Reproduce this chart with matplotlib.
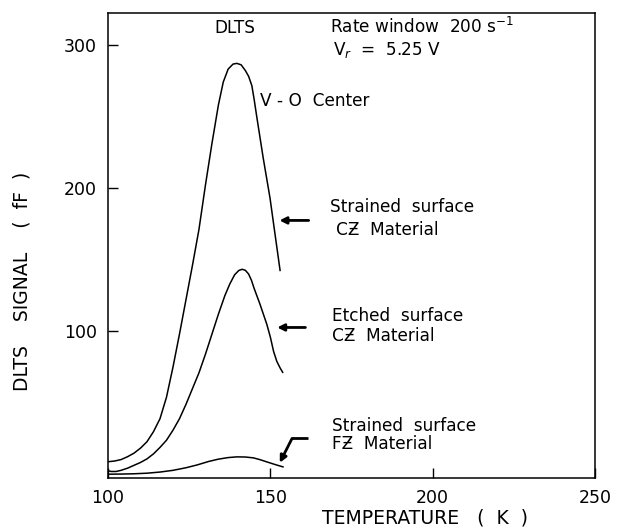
import matplotlib
matplotlib.use("Agg")
import matplotlib.pyplot as plt

# strained surface, CZ material (V-O center)
t_strained_cz = [100, 102, 104, 106, 108, 110, 112, 114, 116, 118, 120, 122, 124, 126,
                 128, 130, 132, 134, 135.5, 137, 138.5, 139.7, 141, 142.3, 143.3, 144.3,
                 145, 145.8, 147.8, 149.9, 151, 153]
s_strained_cz = [9, 9.5, 10.5, 12.5, 15, 18.5, 23, 30, 39, 54, 75, 98, 122, 146,
                 171, 202, 231, 258, 274, 283, 286.5, 287, 286, 282, 278, 271.5,
                 262, 250, 221, 193, 175, 142.5]

# etched surface, CZ material
t_etched_cz = [100, 101, 102.5, 104, 106, 108, 110, 112, 114, 116, 118, 120, 122, 124,
               126, 128, 130, 132, 134, 136, 137.5, 139, 140.3, 141.3, 142.3, 143.3,
               144.2, 145, 146.8, 148.9, 150, 151, 152, 153, 153.8]
s_etched_cz = [2.7, 2.2, 2.2, 3, 4.5, 6.5, 8.5, 11, 14.5, 19, 24, 31, 39, 49,
               60, 71, 84, 98, 112, 125, 133, 139.5, 142.5, 143.3, 142.6, 140,
               135.5, 130, 119, 105, 96, 86, 79, 74.5, 71.4]

# strained surface, FZ material
t_strained_fz = [100, 104, 108, 112, 116, 120, 124, 127.5, 131, 134, 137, 139.7,
                 142.3, 144.8, 146.9, 148.9, 151.4, 153.9]
s_strained_fz = [0.3, 0.4, 0.6, 1, 1.8, 3, 4.8, 6.8, 9.2, 10.8, 11.9, 12.4,
                 12.3, 11.7, 10.4, 8.9, 7.1, 5.4]

x_ticks = [100, 150, 200, 250]
y_ticks = [100, 200, 300]

fig = plt.figure(figsize=(6.21, 5.29), dpi=100)
ax = fig.add_axes([0.174, 0.096, 0.784, 0.879])

for t, s in [(t_strained_cz, s_strained_cz), (t_etched_cz, s_etched_cz),
             (t_strained_fz, s_strained_fz)]:
    ax.plot(t, s, color="black", lw=1.1)

ax.set_xlim(100, 250)
ax.set_ylim(-2.5, 322)
ax.set_xticks(x_ticks)
ax.set_yticks(y_ticks)
ax.tick_params(direction="in", length=7, width=1.0, labelsize=12.5, pad=8)
for sp in ax.spines.values():
    sp.set_linewidth(1.1)

ax.set_xlabel("TEMPERATURE   (  K  )", fontsize=13.5, va="center")
ax.xaxis.set_label_coords(0.651, -0.085)
ax.set_ylabel("DLTS    SIGNAL    (  fF  )", fontsize=13.5, va="center")
ax.yaxis.set_label_coords(-0.177, 0.424)

fs = 12.2
ax.text(139.1, 311.5, "DLTS", fontsize=fs, ha="center", va="center")
ax.text(168.4, 308, r"Rate window  200 s$^{-1}$", fontsize=fs, va="baseline")
ax.text(169.3, 293, r"V$_r$  =  5.25 V", fontsize=fs, va="baseline")
ax.text(146.8, 261, "V - O  Center", fontsize=fs, va="center")
ax.text(168.4, 186.5, "Strained  surface", fontsize=fs, va="center")
ax.text(170.2, 170.4, "CƵ  Material", fontsize=fs, va="center")
ax.text(169, 111, "Etched  surface", fontsize=fs, va="center")
ax.text(169, 97, "CƵ  Material", fontsize=fs, va="center")
ax.text(169, 34.2, "Strained  surface", fontsize=fs, va="center")
ax.text(169, 21.6, "FƵ  Material", fontsize=fs, va="center")

arrow_style = dict(arrowstyle="-|>", color="black", lw=2.0, mutation_scale=10,
                   shrinkA=0, shrinkB=0)
ax.annotate("", xy=(152.8, 177.4), xytext=(161.8, 177.4), arrowprops=arrow_style)
ax.annotate("", xy=(152.1, 102.7), xytext=(160.8, 102.7), arrowprops=arrow_style)
ax.plot([161.6, 156.7], [25.3, 25.3], color="black", lw=2.0, solid_capstyle="butt")
ax.annotate("", xy=(152.9, 8.3), xytext=(156.7, 25.3), arrowprops=arrow_style)

fig.savefig("out.png", dpi=100)
